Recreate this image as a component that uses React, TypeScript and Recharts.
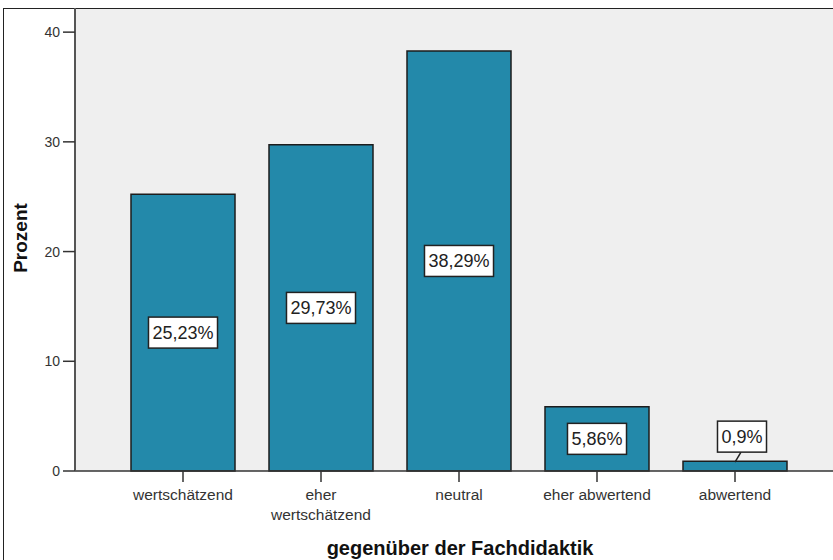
import { BarChart, Bar, XAxis, YAxis, LabelList } from 'recharts';

const categories = ['wertschätzend', 'eher wertschätzend', 'neutral', 'eher abwertend', 'abwertend'];
const percentValues = [25.23, 29.73, 38.29, 5.86, 0.9];
const yTicks = [0, 10, 20, 30, 40];

const data = categories.map((name, i) => ({ name, value: percentValues[i] }));

const FONT = '"Liberation Sans", Arial, sans-serif';

// Breite grob schätzen (Arial-Metrik)
const textWidth = (s: string, size: number) => {
  let w = 0;
  for (const ch of s) {
    if (ch === ',') w += 0.278;
    else if (ch === '%') w += 0.889;
    else w += 0.556;
  }
  return w * size;
};

const ValueBox = (props: any) => {
  const { x, y, width, height, value } = props;
  const label = String(value).replace('.', ',') + '%';
  const fs = 18;
  const bw = textWidth(label, fs) + 8;
  const bh = 31;
  const cx = x + width / 2;
  if (height < 40) {
    // kleiner Balken: Box oberhalb mit Verbindungslinie
    const bx = cx + 7;
    const by = y - 9 - bh;
    return (
      <g>
        <line x1={bx - 1} y1={by + bh} x2={cx} y2={y + 1} stroke="#222" strokeWidth={1.5} />
        <rect x={bx - bw / 2} y={by} width={bw} height={bh} fill="#fff" stroke="#222" strokeWidth={1.5} />
        <text x={bx} y={by + bh / 2 + 6} textAnchor="middle" fontSize={fs} fontFamily={FONT} fill="#222">{label}</text>
      </g>
    );
  }
  const cy = y + height / 2;
  return (
    <g>
      <rect x={cx - bw / 2} y={cy - bh / 2} width={bw} height={bh} fill="#fff" stroke="#222" strokeWidth={1.5} />
      <text x={cx} y={cy + 6} textAnchor="middle" fontSize={fs} fontFamily={FONT} fill="#222">{label}</text>
    </g>
  );
};

const CategoryTick = (props: any) => {
  const { x, payload } = props;
  const words: string[] = payload.value === 'eher wertschätzend' ? ['eher', 'wertschätzend'] : [payload.value];
  return (
    <text x={x} y={500} textAnchor="middle" fontSize={15.5} fontFamily={FONT} fill="#333">
      {words.map((w, i) => (
        <tspan key={i} x={x} dy={i === 0 ? 0 : 20}>{w}</tspan>
      ))}
    </text>
  );
};

export default function App() {
  return (
    <div style={{ position: 'absolute', left: 0, top: 0, width: 833, height: 560, background: '#fff', overflow: 'hidden' }}>
      {/* Rahmen + grauer Plot-Hintergrund hinter dem SVG */}
      <div style={{ position: 'absolute', left: 3, top: 8, width: 900, height: 600, borderLeft: '1.5px solid #222', borderTop: '1.5px solid #222' }} />
      <div style={{ position: 'absolute', left: 75, top: 9, width: 800, height: 462, background: '#efefef' }} />
      <BarChart
        width={833}
        height={560}
        data={data}
        margin={{ top: 8, right: 0, left: 0, bottom: 0 }}
        barSize={104}
        style={{ position: 'absolute', left: 0, top: 0 }}
      >
        <XAxis
          dataKey="name"
          height={89}
          padding={{ left: 39, right: 29 }}
          interval={0}
          tickSize={11}
          stroke="#333"
          tickLine={{ stroke: '#333', strokeWidth: 1.5 }}
          axisLine={{ stroke: '#333', strokeWidth: 1.5 }}
          tick={<CategoryTick />}
          label={{
            content: () => (
              <text x={460} y={555} textAnchor="middle" fontSize={20} fontWeight="bold" fontFamily={FONT} fill="#111">
                gegenüber der Fachdidaktik
              </text>
            ),
          }}
        />
        <YAxis
          width={75}
          domain={[0, 42.2]}
          ticks={yTicks}
          tickSize={12}
          tickMargin={3}
          axisLine={{ stroke: '#555', strokeWidth: 2 }}
          tickLine={{ stroke: '#333', strokeWidth: 1.5 }}
          tick={{ fontSize: 14, fontFamily: FONT, fill: '#333' }}
          label={{
            content: () => (
              <text x={20} y={238} transform="rotate(-90 20 238)" textAnchor="middle" dominantBaseline="central" fontSize={19} fontWeight="bold" fontFamily={FONT} fill="#111">
                Prozent
              </text>
            ),
          }}
        />
        <Bar dataKey="value" fill="#2389aa" stroke="#1c1c1c" strokeWidth={1.5} isAnimationActive={false}>
          <LabelList dataKey="value" content={<ValueBox />} />
        </Bar>
      </BarChart>
    </div>
  );
}
